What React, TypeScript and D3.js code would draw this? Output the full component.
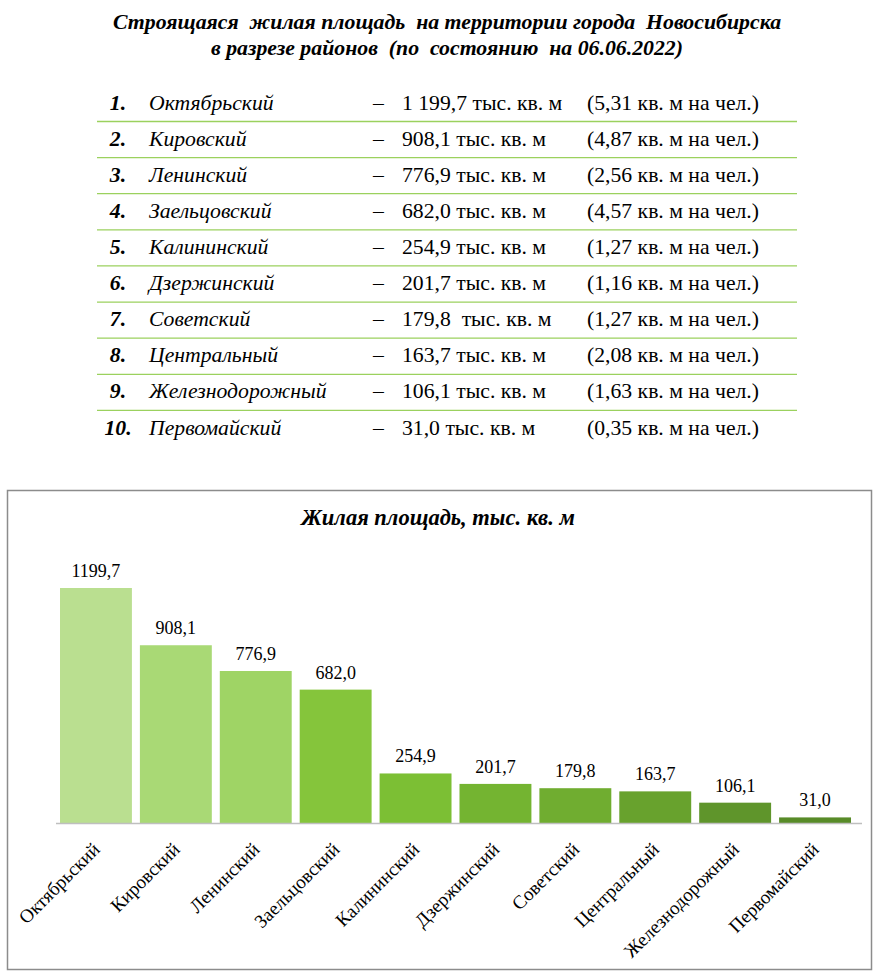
import React from "react";
import * as d3 from "d3";

const titleLines = ["Строящаяся  жилая площадь  на территории города  Новосибирска", "в разрезе районов  (по  состоянию  на 06.06.2022)"];
const chartTitle = "Жилая площадь, тыс. кв. м";
const districts = ["Октябрьский", "Кировский", "Ленинский", "Заельцовский", "Калининский", "Дзержинский", "Советский", "Центральный", "Железнодорожный", "Первомайский"];
const areaValues = [1199.7, 908.1, 776.9, 682.0, 254.9, 201.7, 179.8, 163.7, 106.1, 31.0];
const tableValueLabels = ["1 199,7 тыс. кв. м", "908,1 тыс. кв. м", "776,9 тыс. кв. м", "682,0 тыс. кв. м", "254,9 тыс. кв. м", "201,7 тыс. кв. м", "179,8  тыс. кв. м", "163,7 тыс. кв. м", "106,1 тыс. кв. м", "31,0 тыс. кв. м"];
const perCapita = ["5,31", "4,87", "2,56", "4,57", "1,27", "1,16", "1,27", "2,08", "1,63", "0,35"];
const barColors = ["#badf90", "#a9d975", "#9fd465", "#85c53b", "#7cbf34", "#74b431", "#70ad30", "#68a22d", "#5f952b", "#588b28"];

const serif = "Liberation Serif, Times New Roman, serif";

export default function App() {
  const W = 878, H = 976;
  const x = d3.scaleBand<string>().domain(districts).range([56, 855]).paddingInner(0.1).paddingOuter(0.05);
  const baseY = 823.5;
  const y = d3.scaleLinear().domain([0, 1199.7]).range([baseY, 588]);
  const fmt = (v: number) => d3.format(".1f")(v).replace(".", ",");

  const rowY = d3.scaleLinear().domain([0, 9]).range([109.5, 434.5]);
  const ff = { fontFamily: serif } as React.CSSProperties;
  const fs = 21.7;

  return (
    <svg width={W} height={H} style={{ position: "absolute", left: 0, top: 0, ...ff }}>
      <rect x={0} y={0} width={W} height={H} fill="#fff" />
      {titleLines.map((t, i) => (
        <text key={i} x={447} y={29 + i * 26} textAnchor="middle" fontSize={21.8} fontWeight="bold" fontStyle="italic" style={{ whiteSpace: "pre", ...ff }}>{t}</text>
      ))}
      {districts.map((d, i) => {
        const by = rowY(i);
        return (
          <g key={d} style={ff}>
            <text x={118} y={by} textAnchor="middle" fontSize={fs} fontWeight="bold" fontStyle="italic">{`${i + 1}.`}</text>
            <text x={149} y={by} fontSize={fs} fontStyle="italic">{d}</text>
            <text x={373} y={by} fontSize={fs}>–</text>
            <text x={402} y={by} fontSize={fs} style={{ whiteSpace: "pre" }}>{tableValueLabels[i]}</text>
            <text x={587} y={by} fontSize={fs}>{`(${perCapita[i]} кв. м на чел.)`}</text>
            {i < 9 && <line x1={97} x2={797} y1={by + 12} y2={by + 12} stroke="#9bd15e" strokeWidth={1.3} />}
          </g>
        );
      })}
      <rect x={7.5} y={490.5} width={864} height={479} fill="#fff" stroke="#8c8c8c" strokeWidth={1.5} />
      <text x={438} y={525} textAnchor="middle" fontSize={22.5} fontWeight="bold" fontStyle="italic" style={ff}>{chartTitle}</text>
      {districts.map((d, i) => {
        const bx = x(d)!;
        const bw = x.bandwidth();
        const v = areaValues[i];
        return (
          <g key={d} style={ff}>
            <rect x={bx} y={y(v)} width={bw} height={baseY - y(v)} fill={barColors[i]} />
            <text x={bx + bw / 2} y={y(v) - 11} textAnchor="middle" fontSize={18}>{fmt(v)}</text>
            <text transform={`translate(${bx + bw / 2 + 5},${baseY + 27}) rotate(-45)`} textAnchor="end" fontSize={19}>{d}</text>
          </g>
        );
      })}
      <line x1={56} x2={862} y1={baseY} y2={baseY} stroke="#bfbfbf" strokeWidth={1.5} />
    </svg>
  );
}
